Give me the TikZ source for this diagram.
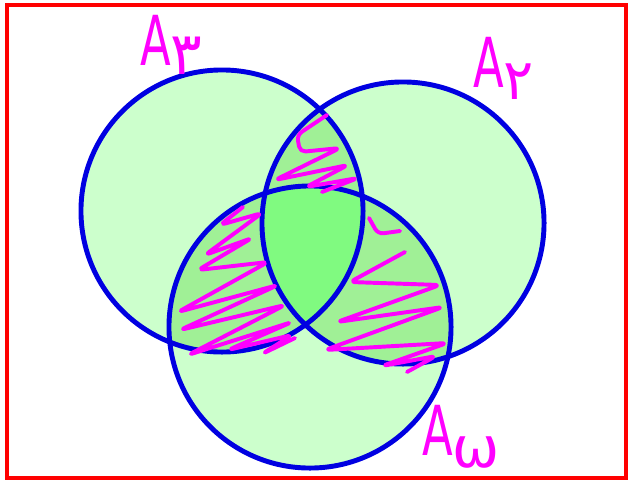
\documentclass[tikz,border=0pt]{standalone}
\usepackage{fontspec}
\setmainfont{DejaVu Sans}
\newfontfamily\arabicfont[Script=Arabic]{DejaVu Sans}
\usetikzlibrary{positioning}
\definecolor{vennfill}{RGB}{204,255,204}
\definecolor{vennpair}{RGB}{160,240,150}
\definecolor{venntriple}{RGB}{128,250,128}
\definecolor{vennblue}{RGB}{0,0,225}
\definecolor{scribble}{RGB}{255,0,255}
\newcommand{\crad}{3.525cm}

\begin{document}
\begin{tikzpicture}[x=0.025cm, y=-0.025cm,
  ring/.style={draw=vennblue,line width=3.5pt},
  hatch/.style={draw=scribble,line width=2.8pt,line cap=round,line join=round,rounded corners=4pt},
  setlbl/.style={text=scribble,inner sep=0pt,anchor=base west,font=\fontsize{49}{49}\selectfont}]
  \useasboundingbox (0,0) rectangle (628,481);
  \coordinate (cthree) at (222,211);
  \coordinate (ctwo) at (403,223);
  \coordinate (cfive) at (310,327);
  % light fills
  \fill[vennfill] (cthree) circle[radius=\crad] (ctwo) circle[radius=\crad] (cfive) circle[radius=\crad];
  % pairwise overlaps
  \begin{scope}
    \clip (cthree) circle[radius=\crad];
    \fill[vennpair] (ctwo) circle[radius=\crad] (cfive) circle[radius=\crad];
  \end{scope}
  \begin{scope}
    \clip (ctwo) circle[radius=\crad];
    \fill[vennpair] (cfive) circle[radius=\crad];
  \end{scope}
  % triple overlap
  \begin{scope}
    \clip (cthree) circle[radius=\crad];
    \clip (ctwo) circle[radius=\crad];
    \fill[venntriple] (cfive) circle[radius=\crad];
  \end{scope}
  \draw[ring] (cthree) circle[radius=\crad];
  \draw[ring] (ctwo) circle[radius=\crad];
  \draw[ring] (cfive) circle[radius=\crad];
  % scribbles
  \draw[hatch] (327,115) -- (297,135) -- (300,152) -- (340,148) -- (275,180) -- (348,165) -- (306,187) -- (358,178) -- (322,192);
  \draw[hatch] (243,207) -- (220,225) -- (262,213) -- (205,255) -- (252,238) -- (198,270) -- (268,262) -- (178,312) -- (278,285) -- (180,330) -- (285,305) -- (188,355) -- (292,322) -- (228,350) -- (292,335) -- (262,354) -- (295,338);
  \draw[hatch] (369,218) -- (378,234) -- (400,231);
  \draw[hatch] (405,252) -- (350,282) -- (440,285) -- (337,322) -- (443,307) -- (325,350) -- (447,343) -- (382,366) -- (436,356) -- (407,372);
  % border
  \draw[red,line width=2.8pt] (7,5) rectangle (626,478);
  % labels
  \node[setlbl] (lthree) at (140,65) {\scalebox{0.65}[1]{A}\raisebox{-6.5pt}{\fontsize{42}{42}\arabicfont ۳}};
  \node[setlbl] (ltwo) at (473,87) {\scalebox{0.65}[1]{A}\raisebox{-9pt}{\fontsize{40}{40}\arabicfont ۲}};
  \node[setlbl] (lfive) at (422,455) {\scalebox{0.65}[1]{A}\raisebox{-9pt}{\fontsize{40}{40}\selectfont ω}};
\end{tikzpicture}
\end{document}
